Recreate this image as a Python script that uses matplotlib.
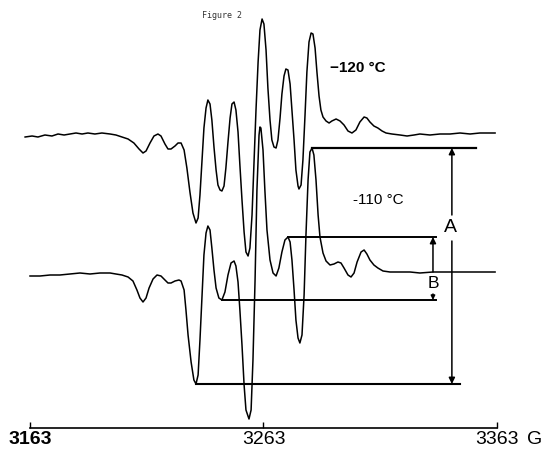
import matplotlib
matplotlib.use("Agg")
import matplotlib.pyplot as plt
import numpy as np

# ESR spectra, magnetic field (G) vs. derivative signal (arbitrary units)
field_120 = [3160.9, 3163.9, 3166.4, 3169.4, 3172.4, 3175.0, 3177.6, 3180.1, 3182.7, 3185.3,
             3187.8, 3190.8, 3193.8, 3197.3, 3199.8, 3202.4, 3205.0, 3207.5, 3209.7, 3211.4,
             3212.7, 3214.4, 3216.1, 3217.8, 3219.1, 3220.8, 3222.1, 3223.4, 3225.1, 3226.4,
             3227.7, 3229.0, 3230.2, 3231.5, 3232.8, 3234.1, 3235.0, 3235.8, 3236.7, 3237.5,
             3238.4, 3239.2, 3240.1, 3240.9, 3241.8, 3242.7, 3243.5, 3244.4, 3245.2, 3246.1,
             3246.9, 3247.8, 3248.7, 3249.5, 3250.4, 3251.2, 3252.1, 3252.9, 3253.8, 3254.7,
             3255.5, 3256.4, 3257.2, 3258.1, 3258.9, 3259.8, 3260.7, 3261.5, 3262.4, 3263.2,
             3264.1, 3264.9, 3265.8, 3266.6, 3267.5, 3268.4, 3269.2, 3270.1, 3270.9, 3271.8,
             3272.6, 3273.5, 3274.4, 3275.2, 3276.1, 3276.9, 3277.8, 3278.2, 3279.1, 3279.9,
             3280.8, 3281.6, 3282.5, 3283.4, 3284.2, 3285.1, 3285.9, 3286.8, 3287.6, 3288.5,
             3289.8, 3291.1, 3292.3, 3294.1, 3295.8, 3297.5, 3299.2, 3300.9, 3302.6, 3304.3,
             3306.1, 3307.3, 3308.6, 3310.3, 3312.0, 3313.8, 3315.5, 3318.0, 3321.5, 3324.5,
             3327.5, 3330.0, 3334.3, 3338.6, 3342.9, 3347.2, 3351.5, 3355.7, 3360.0, 3362.2]
signal_120 = [-2, -1, -2, 0, -1, 1, 0, 1, 2, 1,
              2, 1, 2, 1, 0, -2, -4, -8, -14, -18,
              -16, -8, -1, 1, -1, -9, -14, -14, -11, -8,
              -8, -15, -33, -57, -78, -88, -83, -60, -25, 7,
              27, 35, 31, 15, -12, -35, -50, -55, -56, -51,
              -33, -7, 17, 31, 33, 25, 3, -30, -65, -97,
              -117, -121, -113, -80, -30, 25, 73, 105, 116, 111,
              85, 47, 15, -5, -12, -13, -5, 17, 41, 59,
              66, 65, 51, 25, -5, -35, -51, -54, -50, -25,
              20, 63, 93, 102, 101, 87, 63, 39, 25, 18,
              14, 12, 14, 16, 14, 10, 4, 2, 5, 13,
              18, 17, 13, 9, 7, 4, 2, 1, 0, -1,
              0, 1, 0, 1, 1, 2, 1, 2, 2, 2]

field_110 = [3163.0, 3167.3, 3171.6, 3175.8, 3180.1, 3184.4, 3188.7, 3193.0, 3197.3, 3199.8,
             3202.4, 3205.0, 3207.1, 3208.8, 3210.1, 3211.4, 3212.7, 3214.0, 3215.7, 3217.4,
             3219.1, 3220.8, 3222.1, 3223.4, 3225.1, 3226.8, 3227.7, 3229.0, 3229.8, 3230.7,
             3232.0, 3233.2, 3234.1, 3235.0, 3235.8, 3236.7, 3237.5, 3238.4, 3239.2, 3240.1,
             3240.9, 3241.8, 3242.7, 3243.9, 3245.2, 3246.5, 3247.8, 3249.1, 3250.4, 3251.2,
             3252.1, 3252.9, 3253.8, 3254.7, 3255.5, 3256.8, 3257.7, 3258.5, 3259.4, 3260.2,
             3261.1, 3261.5, 3261.9, 3262.8, 3263.6, 3264.5, 3265.8, 3267.1, 3268.4, 3269.6,
             3270.9, 3272.2, 3273.5, 3274.4, 3275.2, 3276.1, 3276.9, 3277.8, 3278.6, 3279.5,
             3280.4, 3281.2, 3282.1, 3282.9, 3283.8, 3284.6, 3285.5, 3286.4, 3287.2, 3288.5,
             3289.8, 3291.5, 3293.2, 3294.9, 3296.2, 3297.5, 3299.2, 3300.5, 3301.8, 3303.1,
             3304.8, 3306.1, 3307.3, 3308.6, 3310.3, 3312.0, 3314.2, 3317.2, 3321.5, 3325.8,
             3330.0, 3335.6, 3342.9, 3351.5, 3362.2]
signal_110 = [0, 0, 1, 1, 2, 3, 2, 3, 3, 2,
              1, -1, -5, -14, -22, -26, -22, -12, -3, 1,
              0, -4, -7, -7, -5, -4, -5, -14, -34, -59,
              -86, -104, -108, -99, -64, -19, 21, 43, 50, 46,
              28, 6, -12, -22, -24, -16, 1, 13, 15, 10,
              -6, -34, -69, -109, -134, -143, -134, -84, -4, 86,
              141, 149, 148, 126, 86, 46, 16, 3, 0, 8,
              24, 36, 39, 34, 16, -14, -44, -62, -67, -59,
              -19, 41, 96, 124, 128, 121, 96, 61, 39, 23,
              15, 11, 12, 14, 13, 8, 1, -1, 3, 14,
              24, 26, 22, 16, 11, 8, 5, 4, 4, 4,
              3, 4, 4, 4, 4]

# lines used for the A and B measurements (trough field, peak field)
A_fields = [3234.1, 3283.8]
B_fields = [3245.2, 3273.5]
tick_fields = [3163, 3263, 3363]
tick_labels = ["3163", "3263", "3363"]

offset_120 = 141

plt.rcParams['font.family'] = ['Liberation Sans', 'DejaVu Sans']

fig = plt.figure(figsize=(5.42, 4.49), dpi=100)
ax = fig.add_axes([0, 21 / 449, 1, 428 / 449])
ax.set_xlim(3150.15, 3382.3)
ax.set_ylim(-152, 276)

ax.plot(field_120, np.array(signal_120) + offset_120, color='black', lw=1.1)
ax.plot(field_110, signal_110, color='black', lw=1.1)


def sig_at(f):
    return signal_110[field_110.index(f)]


a_lo, a_hi = sig_at(A_fields[0]), sig_at(A_fields[1])
b_lo, b_hi = sig_at(B_fields[0]), sig_at(B_fields[1])

ax.plot([A_fields[1], 3354.0], [a_hi, a_hi], color='black', lw=1.6)
ax.plot([A_fields[0], 3347.2], [a_lo, a_lo], color='black', lw=1.5)
ax.plot([B_fields[1], 3336.9], [b_hi, b_hi], color='black', lw=1.4)
ax.plot([B_fields[0], 3336.9], [b_lo, b_lo], color='black', lw=1.4)

arr = dict(arrowstyle='-|>', color='black', lw=1.1, mutation_scale=9, shrinkA=0, shrinkB=0)
# A arrow
ax.annotate('', xy=(3343.7, a_hi), xytext=(3343.7, 61), arrowprops=arr)
ax.annotate('', xy=(3343.7, a_lo), xytext=(3343.7, 35), arrowprops=arr)
ax.text(3343.0, 48, 'A', fontsize=14, ha='center', va='center')
# B arrow
ax.annotate('', xy=(3335.6, b_hi), xytext=(3335.6, 4), arrowprops=arr)
ax.annotate('', xy=(3335.6, b_lo), xytext=(3335.6, -18),
            arrowprops=dict(arr, mutation_scale=6))
ax.text(3335.6, -8, 'B', fontsize=12.5, ha='center', va='center')

ax.text(3303.5, 208, '\u2212120 \u00b0C', fontsize=11, fontweight='bold',
        ha='center', va='center')
ax.text(3312.0, 76, '-110 \u00b0C', fontsize=11, ha='center', va='center')

fig.text(222 / 542, 1 - 16 / 449, 'Figure 2', fontsize=6,
         family='DejaVu Sans Mono', color='#333333', ha='center', va='center')

for s in ['top', 'left', 'right']:
    ax.spines[s].set_visible(False)
ax.spines['bottom'].set_bounds(3163, 3363)
ax.spines['bottom'].set_linewidth(1.2)
ax.set_yticks([])
ax.set_xticks(tick_fields)
ax.set_xticklabels(tick_labels, fontsize=14)
ax.tick_params(axis='x', direction='in', length=4, width=1, pad=2)
ax.get_xticklabels()[0].set_fontweight('bold')
ax.text(3379.2, -155, 'G', fontsize=14, ha='center', va='top')

fig.savefig('out.png', dpi=100)
